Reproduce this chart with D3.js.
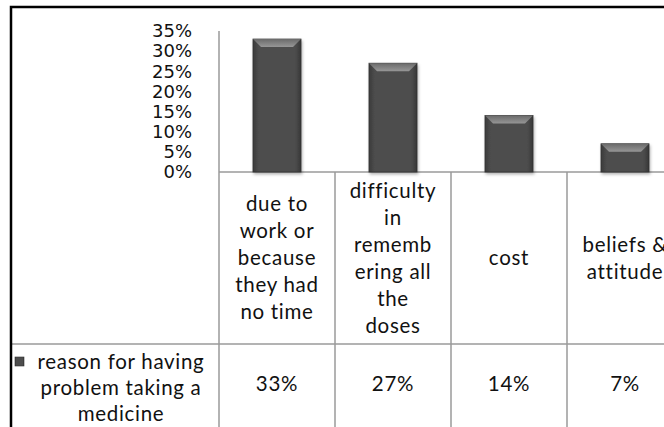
<!DOCTYPE html>
<html>
<head>
<meta charset="utf-8">
<script src="https://cdn.jsdelivr.net/npm/d3@7"></script>
<style>
  html, body { margin: 0; padding: 0; background: #fff; }
  svg { display: block; }
</style>
</head>
<body>
<div id="svgcontainer"></div>
<script>
// --- data ---
var categories = ["due to work or because they had no time",
                  "difficulty in remembering all the doses",
                  "cost",
                  "beliefs & attitude"];
// how the category names are wrapped in the table cells
var categoryLines = [["due to", "work or", "because", "they had", "no time"],
                     ["difficulty", "in", "rememb", "ering all", "the", "doses"],
                     ["cost"],
                     ["beliefs &", "attitude"]];
var values = [33, 27, 14, 7];
var seriesName = ["reason for having", "problem taking a", "medicine"];
var yTicks = [0, 5, 10, 15, 20, 25, 30, 35];

// --- dimensions ---
var width = 664;
var height = 427;
var plot = ({left: 219, right: 683, top: 31, bottom: 172});
var rowBottom = 344;
var gridColor = "#9a9a9a";
var textFont = "Lato, 'Open Sans', sans-serif";

var svg = d3.select("#svgcontainer").append("svg")
    .attr("width", width).attr("height", height).attr("id", "svg");

var defs = svg.append("defs");

// bar body: dark with darker sides
var body = defs.append("linearGradient").attr("id", "barBody");
body.append("stop").attr("offset", "0%").attr("stop-color", "#3a3a3a");
body.append("stop").attr("offset", "12%").attr("stop-color", "#4d4d4d");
body.append("stop").attr("offset", "88%").attr("stop-color", "#4d4d4d");
body.append("stop").attr("offset", "100%").attr("stop-color", "#383838");

var bevel = defs.append("linearGradient").attr("id", "barTop")
    .attr("x1", 0).attr("y1", 0).attr("x2", 0).attr("y2", 1);
bevel.append("stop").attr("offset", "0%").attr("stop-color", "#6a6a6a");
bevel.append("stop").attr("offset", "100%").attr("stop-color", "#979797");

var shadow = defs.append("filter").attr("id", "shadow")
    .attr("x", "-30%").attr("y", "-10%").attr("width", "160%").attr("height", "130%");
shadow.append("feDropShadow").attr("dx", 1).attr("dy", 2)
    .attr("stdDeviation", 1.6).attr("flood-color", "#000").attr("flood-opacity", 0.3);

// --- scales ---
var x = d3.scaleBand().domain(categories).range([plot.left, plot.right])
    .paddingInner(0.586).paddingOuter(0.293);
var col = d3.scaleBand().domain(categories).range([plot.left, plot.right]);
var y = d3.scaleLinear().domain([0, 35]).range([plot.bottom, plot.top]);

// --- y axis labels ---
var yAxis = d3.axisLeft(y).tickValues(yTicks).tickSize(0).tickPadding(27)
    .tickFormat(function(d){ return d + "%"; });
var gy = svg.append("g").attr("transform", "translate(" + plot.left + ",0)").call(yAxis);
gy.select(".domain").remove();
gy.selectAll("text")
    .attr("font-family", "DejaVu Sans, Verdana, sans-serif")
    .attr("font-size", 18).attr("fill", "#111");

// --- table grid ---
var grid = svg.append("g").attr("stroke", gridColor).attr("stroke-width", 1.5);
grid.append("line").attr("x1", plot.left).attr("x2", plot.left)
    .attr("y1", plot.top).attr("y2", height);
grid.append("line").attr("x1", plot.left).attr("x2", width)
    .attr("y1", plot.bottom).attr("y2", plot.bottom);
grid.append("line").attr("x1", 11).attr("x2", width)
    .attr("y1", rowBottom).attr("y2", rowBottom);
categories.forEach(function(c, i){
    if (i > 0){
        grid.append("line").attr("x1", col(c)).attr("x2", col(c))
            .attr("y1", plot.bottom).attr("y2", height);
    }
});

// --- bars ---
var bars = svg.append("g").selectAll("g").data(values).enter().append("g");
bars.append("rect")
    .attr("x", function(d, i){ return x(categories[i]); })
    .attr("y", function(d){ return y(d); })
    .attr("width", x.bandwidth())
    .attr("height", function(d){ return y(0) - y(d); })
    .attr("fill", "url(#barBody)")
    .attr("stroke", "#333").attr("stroke-width", 0.8)
    .attr("filter", "url(#shadow)");
bars.append("path")
    .attr("d", function(d, i){
        var x0 = x(categories[i]), x1 = x0 + x.bandwidth(), t = y(d), b = 8;
        return "M" + x0 + "," + t + "L" + x1 + "," + t +
               "L" + (x1 - b) + "," + (t + b) + "L" + (x0 + b) + "," + (t + b) + "Z";
    })
    .attr("fill", "url(#barTop)");

// --- category cells ---
var lineH = 27;
var rowMid = (plot.bottom + rowBottom) / 2;
var labels = svg.append("g")
    .attr("font-family", textFont).attr("letter-spacing", 0.7)
    .attr("font-size", 20.5).attr("fill", "#111").attr("text-anchor", "middle");
categoryLines.forEach(function(lines, i){
    var cx = col(categories[i]) + col.bandwidth() / 2;
    var start = rowMid - (lines.length - 1) * lineH / 2;
    lines.forEach(function(l, j){
        labels.append("text").attr("x", cx).attr("y", start + j * lineH)
            .attr("dy", "0.35em").text(l);
    });
});

// --- value row ---
var valueY = 384;
labels.selectAll(".val").data(values).enter().append("text")
    .attr("class", "val")
    .attr("x", function(d, i){ return col(categories[i]) + col.bandwidth() / 2; })
    .attr("y", valueY).attr("dy", "0.35em")
    .text(function(d){ return d + "%"; });

// --- legend cell ---
var legendMid = 121;
seriesName.forEach(function(l, j){
    labels.append("text").attr("x", legendMid)
        .attr("y", 362 + j * 26).attr("dy", "0.35em").text(l);
});
svg.append("rect").attr("x", 15).attr("y", 357).attr("width", 9).attr("height", 9)
    .attr("fill", "url(#barBody)").attr("stroke", "#333").attr("stroke-width", 0.6);

// --- outer frame ---
svg.append("path").attr("d", "M11," + height + "L11,7L" + width + ",7")
    .attr("fill", "none").attr("stroke", "#000").attr("stroke-width", 2.5);
</script>
</body>
</html>
